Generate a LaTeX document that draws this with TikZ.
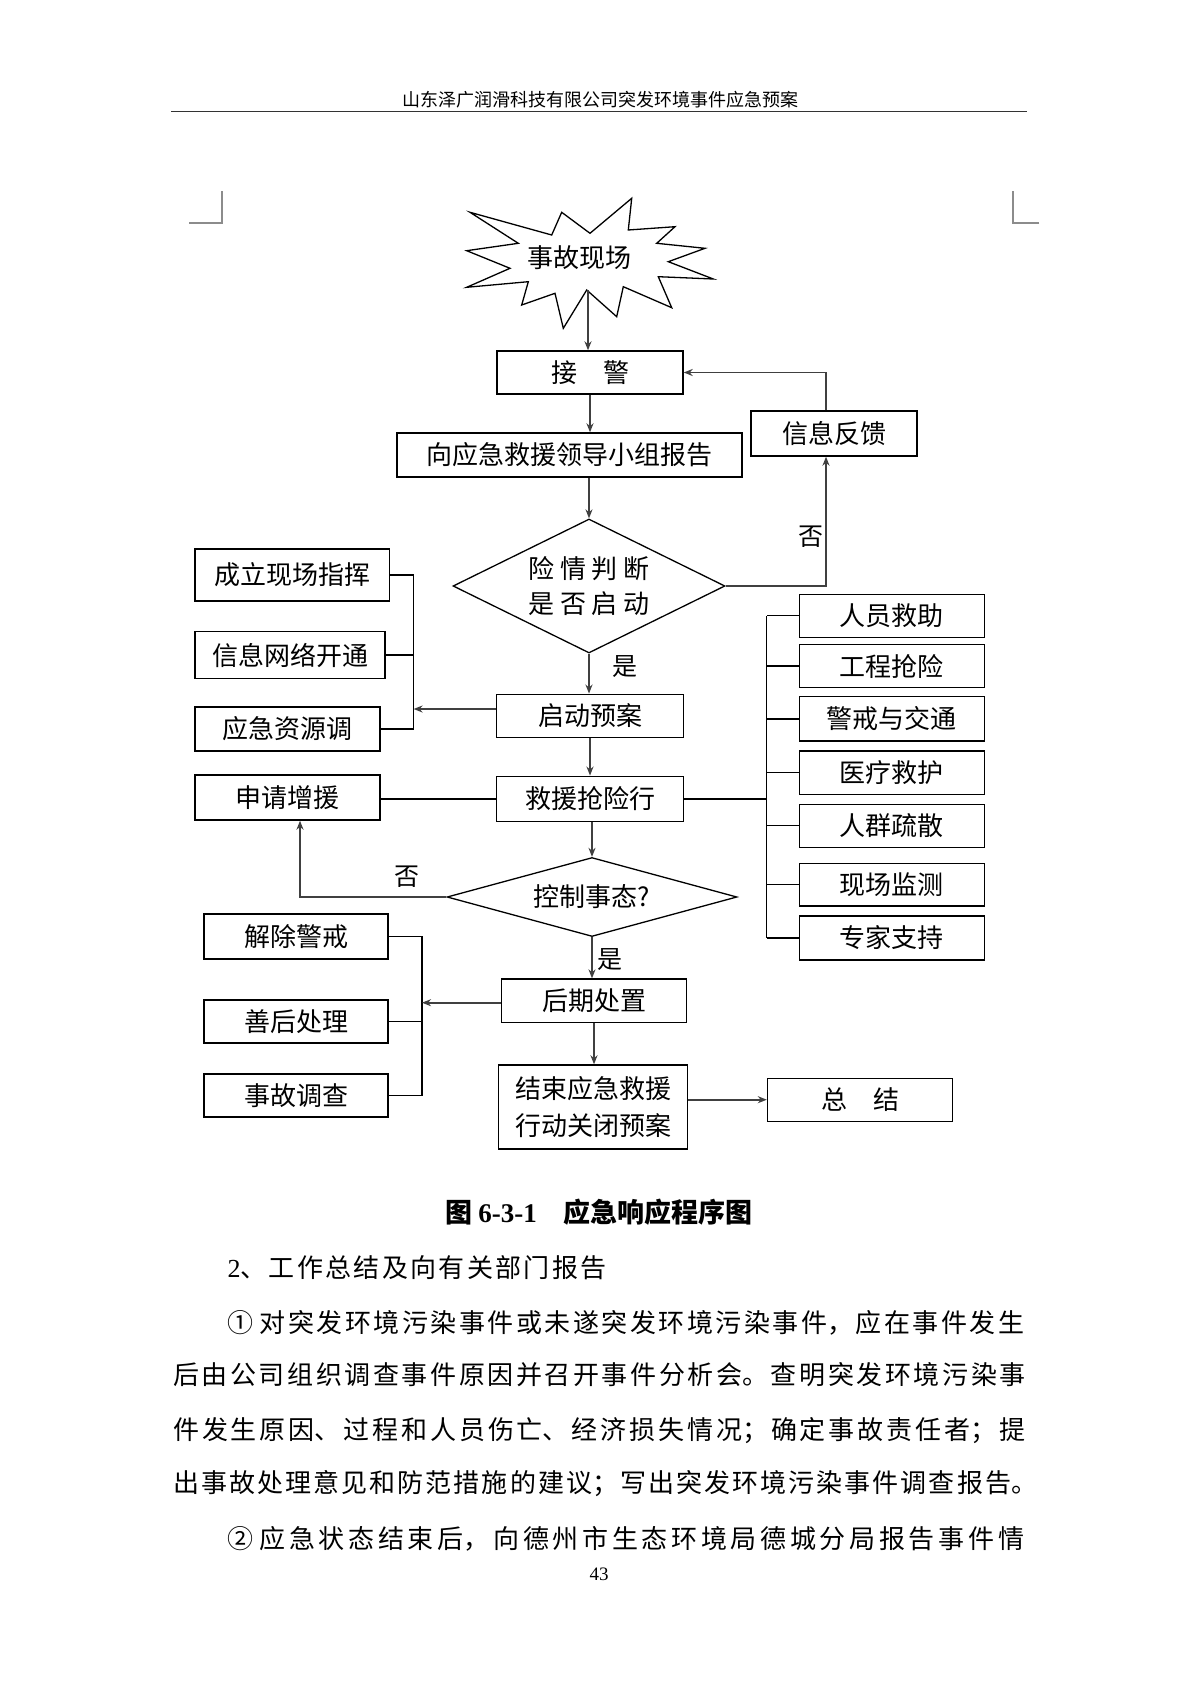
\documentclass[tikz,border=0pt]{standalone}
\usepackage{fontspec}
\setmainfont{Liberation Serif}
\newfontfamily\cjk{Noto Sans CJK SC}
\usetikzlibrary{shapes.geometric, arrows, arrows.meta}
\newcommand\zhline{\XeTeXlinebreaklocale "zh"\XeTeXlinebreakskip=0pt plus 1fil\parfillskip=0pt\relax}
\tikzstyle{block} = [rectangle, text centered, draw, line width=1.4pt, inner sep=0pt, minimum width=185pt, minimum height=43pt, font=\cjk\fontsize{26pt}{37pt}\selectfont]
\tikzstyle{decision} = [diamond, draw, line width=1.3pt, aspect=2, inner sep=0pt, minimum width=272pt, minimum height=134pt, align=center, font=\cjk\fontsize{26pt}{35pt}\selectfont]
\tikzstyle{arrow} = [line width=1.8pt, black!75, -{Stealth[length=9pt,width=7pt]}]
\tikzstyle{link} = [line width=1.3pt]
\tikzstyle{answer} = [inner sep=0pt, font=\cjk\fontsize{25pt}{27pt}\selectfont]
\tikzstyle{body} = [inner sep=0pt, anchor=west, align=justify, font=\cjk\fontsize{26pt}{30pt}\selectfont]
\tikzstyle{cropmark} = [line width=2pt, black!45]

\begin{document}
\begin{tikzpicture}[x=1pt, y=-1pt]
  \useasboundingbox (0,0) rectangle (1199,1696);
  \fill [white] (0,0) rectangle (1199,1696);

  % page head
  \node (header) at (600,100) [inner sep=0pt, font=\cjk\fontsize{18pt}{20pt}\selectfont] {山东泽广润滑科技有限公司突发环境事件应急预案};
  \draw [line width=1.5pt, black!80] (171,111.5) -- (1027,111.5);
  \draw [cropmark] (189,223) -- (221.7,223) -- (221.7,190.7);
  \draw [cropmark] (1039.3,223) -- (1013.3,223) -- (1013.3,190.7);

  % accident scene
  \node (scene) at (579,258) [inner sep=0pt, font=\cjk\fontsize{26pt}{28pt}\selectfont] {事故现场};
  \draw [link, line join=miter] (470,212.3) -- (551.7,235) -- (561.7,212.3) -- (590,233.3) -- (631.7,198.3)
    -- (628.3,230) -- (675,226.7) -- (656.7,243.3) -- (705,248.3) -- (668.3,261.7) -- (713.3,279)
    -- (658.3,276.7) -- (671.7,307.7) -- (623.3,286.7) -- (616.7,316.7) -- (586.7,290) -- (563.3,328.3)
    -- (555,293.3) -- (521.7,305) -- (528.3,281.7) -- (466.7,287.3) -- (510,268.3) -- (466.7,250.7)
    -- (518.3,243.3) -- cycle;
  \coordinate (scenetip) at (588,290);

  % main column
  \node (alarm) [block, minimum width=186pt] at (590,372.5) {接　警};
  \node (report) [block, node distance=82.5pt, below of=alarm, xshift=-20.5pt, minimum width=345pt, minimum height=44pt] {向应急救援领导小组报告};
  \node (judge) [decision, node distance=131pt, below of=report, xshift=19.5pt] {险 情 判 断\\是 否 启 动};
  \node (start) [block, node distance=130pt, below of=judge, xshift=1pt, minimum width=186.5pt, minimum height=43.5pt] {启动预案};
  \node (rescue) [block, node distance=83pt, below of=start, minimum width=186.5pt, minimum height=45.5pt] {救援抢险行};
  \node (control) [decision, node distance=98pt, below of=rescue, xshift=2pt, aspect=3.67, minimum width=290pt, minimum height=79pt] {控制事态?};
  \node (later) [block, node distance=103.7pt, below of=control, xshift=2pt, minimum height=43.3pt] {后期处置};
  \node (finish) [block, node distance=106.3pt, below of=later, xshift=-1pt, minimum width=189pt, minimum height=84pt, align=center] {结束应急救援\\行动关闭预案};
  \node (summary) [block, node distance=267pt, right of=finish, yshift=7.3pt] {总　结};
  \node (feedback) [block, node distance=264.5pt, right of=report, yshift=21.5pt, minimum width=166pt, minimum height=45pt] {信息反馈};

  % left column
  \node (command) [block, node distance=296.7pt, left of=judge, yshift=11pt, minimum width=194.6pt, minimum height=52pt] {成立现场指挥};
  \node (network) [block, node distance=80pt, below of=command, xshift=-2.3pt, minimum width=190pt, minimum height=46.5pt] {信息网络开通};
  \node (resource) [block, node distance=74pt, below of=network, xshift=-2.5pt, minimum height=44pt] {应急资源调};
  \node (reinforce) [block, node distance=302.5pt, left of=rescue, yshift=1.5pt, minimum height=45pt] {申请增援};
  \node (aftercare) [block, node distance=298pt, left of=later, yshift=-20.8pt, minimum width=184.3pt, minimum height=43.3pt] {善后处理};
  \node (lift) [block, node distance=85pt, above of=aftercare, minimum width=184.3pt, minimum height=45pt] {解除警戒};
  \node (inquiry) [block, node distance=74pt, below of=aftercare, minimum width=184.3pt, minimum height=43.3pt] {事故调查};

  % right column
  \foreach \name/\txt/\y/\h in {rescuer/人员救助/615.8/43, works/工程抢险/666/43.4, cordon/警戒与交通/718.9/44.3,
      medical/医疗救护/772.7/43.3, evacuate/人群疏散/825.8/43, monitor/现场监测/884.7/42.7, expert/专家支持/938/44}
    \node (\name) [block, minimum height=\h pt] at (891.8,\y) {\txt};

  \coordinate (lbus) at (413.6,650);
  \coordinate (rbus) at (766.7,800);
  \coordinate (lbus2) at (422,1000);

  % main flow
  \draw [arrow] (scenetip) -- (scenetip |- alarm.north);
  \draw [arrow] (alarm.south) -- (alarm.south |- report.north);
  \draw [arrow] (judge.north |- report.south) -- (judge.north);
  \draw [arrow] (judge.south) -- (judge.south |- start.north);
  \draw [arrow] (start.south) -- (rescue.north);
  \draw [arrow] (control.north |- rescue.south) -- (control.north);
  \draw [arrow] (control.south) -- (control.south |- later.north);
  \draw [arrow] (later.south) -- (later.south |- finish.north);
  \draw [arrow] (finish.east |- summary.west) -- (summary.west);

  % feedback loop
  \draw [arrow] (judge.east) -| ([xshift=-8pt]feedback.south);
  \draw [arrow] ([xshift=-8pt]feedback.north) |- (alarm.east);
  \node (no1) [answer] at (811,537) {否};
  \node (yes1) [answer] at (625,667) {是};

  % left brackets
  \draw [link] (command.east) -| (lbus |- resource.east) -- (resource.east);
  \draw [link] (network.east) -- (network.east -| lbus);
  \draw [arrow] ([yshift=7pt]start.west) -- ([yshift=7pt]start.west -| lbus);
  \draw [link] (rescue.west) -- (rescue.west -| reinforce.east);
  \draw [arrow] (control.west) -| ([xshift=12.5pt]reinforce.south);
  \node (no2) [answer] at (407,877) {否};
  \node (yes2) [answer] at (610,960) {是};
  \draw [link] (lift.east) -| (lbus2 |- inquiry.east) -- (inquiry.east);
  \draw [link] (aftercare.east) -- (aftercare.east -| lbus2);
  \draw [arrow] ([yshift=-2pt]later.west) -- ([yshift=-2pt]later.west -| lbus2);

  % right bracket
  \draw [link] (rescuer.west -| rbus) -- (expert.west -| rbus);
  \draw [link] (rescue.east) -- (rescue.east -| rbus);
  \foreach \name in {rescuer, works, cordon, medical, evacuate, monitor, expert}
    \draw [link] (\name.west) -- (\name.west -| rbus);

  % caption and text
  \node (caption) at (599,1212) [inner sep=0pt, font=\cjk\bfseries\fontsize{27pt}{30pt}\selectfont] {图 {\rmfamily 6-3-1}\quad 应急响应程序图};
  \node (line1) [body, text width=381pt] at (227.5,1268) {\zhline{\rmfamily 2}、工作总结及向有关部门报告};
  \node (line2) [body, text width=799pt] at (227.5,1322.5) {\zhline ①\ 对突发环境污染事件或未遂突发环境污染事件，应在事件发生};
  \node (line3) [body, text width=855pt] at (173,1375) {\zhline 后由公司组织调查事件原因并召开事件分析会。查明突发环境污染事};
  \node (line4) [body, text width=855pt] at (173,1430.5) {\zhline 件发生原因、过程和人员伤亡、经济损失情况；确定事故责任者；提};
  \node (line5) [body, text width=866pt] at (173,1484) {\zhline 出事故处理意见和防范措施的建议；写出突发环境污染事件调查报告。};
  \node (line6) [body, text width=800pt] at (227.5,1539) {\zhline ②\ 应急状态结束后，向德州市生态环境局德城分局报告事件情};
  \node (pageno) at (599,1574) [inner sep=0pt, font=\fontsize{19pt}{21pt}\selectfont] {43};
\end{tikzpicture}
\end{document}
